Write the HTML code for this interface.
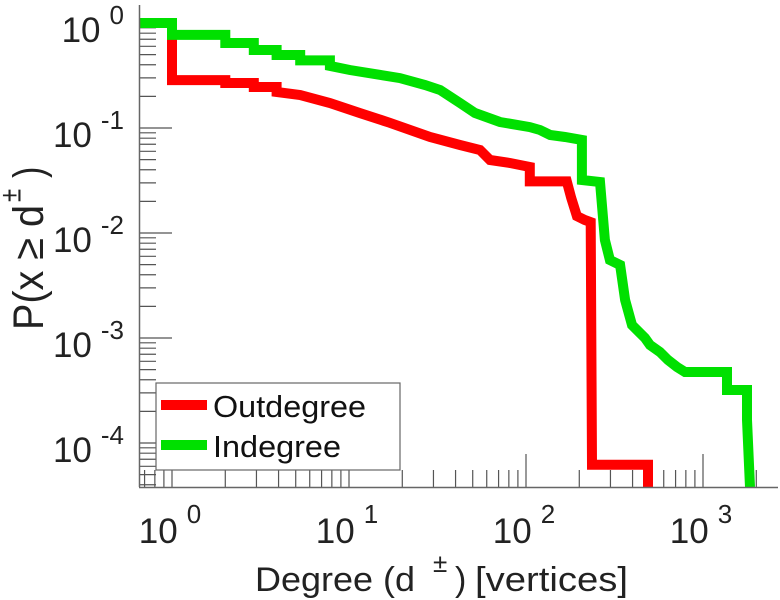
<!DOCTYPE html>
<html><head><meta charset="utf-8"><style>
html,body{margin:0;padding:0;background:#fff;}
svg{display:block;font-family:"Liberation Sans",Arial,sans-serif;}
</style></head><body>
<svg id="chart" width="780" height="600" viewBox="0 0 780 600" xmlns="http://www.w3.org/2000/svg">
<g id="ticks"></g>
<g id="series"></g>
<line x1="139.5" y1="5" x2="139.5" y2="487" stroke="#666" stroke-width="1.5"/>
<line x1="139" y1="487.5" x2="778" y2="487.5" stroke="#666" stroke-width="1.5"/>
<g id="labels" fill="#222" font-size="35"></g>
<text transform="translate(43,330) rotate(-90) scale(1,1.25)" font-size="34" fill="#222"><tspan textLength="125" lengthAdjust="spacingAndGlyphs">P(x ≥ d</tspan><tspan x="128" dy="-18" font-size="24">±</tspan><tspan x="152" dy="18">)</tspan></text>
<text y="591" font-size="34" fill="#222"><tspan x="255" textLength="160" lengthAdjust="spacingAndGlyphs">Degree (d</tspan><tspan x="433" y="572" font-size="26">±</tspan><tspan x="455" y="591">)</tspan><tspan x="475" textLength="153" lengthAdjust="spacingAndGlyphs">[vertices]</tspan></text>
<g>
<rect x="156" y="383" width="244" height="87" fill="#fff" stroke="#666" stroke-width="1.2"/>
<line x1="161" y1="405" x2="207" y2="405" stroke="#ff0000" stroke-width="10"/>
<text x="213" y="417" font-size="31" fill="#111" textLength="153" lengthAdjust="spacingAndGlyphs">Outdegree</text>
<line x1="161" y1="445" x2="207" y2="445" stroke="#00e000" stroke-width="10"/>
<text x="213" y="457" font-size="31" fill="#111" textLength="128" lengthAdjust="spacingAndGlyphs">Indegree</text>
</g>
</svg>
<script>
const inDeg = [0.66,1,1,2,2,2.9,2.9,3.9,3.9,5.3,5.3,7.8,7.8,10.1,19.4,26.9,32.7,42.4,51.5,71.3,105,120,137,166,207,207,262,279,298,340,363,397,470,502,571,634,713,791,1367,1367,1773,1773,1844];
const inProb = [1,1,0.77,0.77,0.645,0.645,0.553,0.553,0.496,0.496,0.44,0.44,0.39,0.357,0.299,0.257,0.230,0.173,0.139,0.114,0.102,0.0957,0.0858,0.082,0.0769,0.032,0.0306,0.00858,0.00553,0.00496,0.0023,0.00133,0.001,0.000857,0.000735,0.000617,0.00053,0.000474,0.000474,0.00032,0.00032,0.000166,3.8e-5];
const outDeg = [0.66,1,1,2,2,2.9,2.9,3.9,3.9,5.3,7.8,11.5,17,28.7,42.4,55,62.6,81.3,105,105,170,180,194,215,232,236,489,489];
const outProb = [1,1,0.286,0.286,0.268,0.268,0.246,0.246,0.22,0.206,0.173,0.139,0.112,0.082,0.0689,0.0617,0.0496,0.0464,0.0425,0.031,0.031,0.0216,0.0145,0.0133,0.0127,6.2e-5,6.2e-5,3.8e-5];
const xMajor = [0,1,2,3];
const yMajor = [0,-1,-2,-3,-4];

const NS = "http://www.w3.org/2000/svg";
function xS(d){ return 172 + 177*Math.log10(d); }
function yS(p){ return 23 - 105*Math.log10(p); }
function mk(tag, attrs, parent){ const e=document.createElementNS(NS,tag); for(const k in attrs) e.setAttribute(k,attrs[k]); parent.appendChild(e); return e; }

const ticks = document.getElementById('ticks');
for(let e=-1; e<=3; e++){
  for(let m=1; m<=9; m++){
    const v = m*Math.pow(10,e); const x = xS(v);
    if(x<140 || x>778) continue;
    const len = m===1 ? 33 : 17;
    const t = mk('line',{x1:x,y1:487,x2:x,y2:487-len,stroke:'#555','stroke-width':1.2},ticks);
    
    
  }
}
for(let e=-5; e<=0; e++){
  for(let m=1; m<=9; m++){
    const v = m*Math.pow(10,e); const y = yS(v);
    if(y<5 || y>487) continue;
    const len = m===1 ? 33 : 17;
    const t = mk('line',{x1:139,y1:y,x2:139+len,y2:y,stroke:'#555','stroke-width':1.2},ticks);
    
    
  }
}
const labels = document.getElementById('labels');
xMajor.forEach(function(k){
  const t = mk('text',{x:xS(Math.pow(10,k))-2,y:543,'text-anchor':'middle'},labels);
  
  
  t.appendChild(document.createTextNode('10'));
  const s = mk('tspan',{dx:9,dy:-20,'font-size':26},t);
  s.textContent = String(k);
});
yMajor.forEach(function(k){
  const y = yS(Math.pow(10,k));
  const t = mk('text',{x:124,y:y+19,'text-anchor':'end'},labels);
  
  
  t.appendChild(document.createTextNode('10'));
  const s = mk('tspan',{dx:9,dy:-18,'font-size':26},t);
  s.textContent = String(k);
});
const series = document.getElementById('series');
function drawLine(xs, ys, color, name){
  const pts = xs.map(function(d,i){ return xS(d).toFixed(1)+','+yS(ys[i]).toFixed(1); }).join(' ');
  const pl = mk('polyline',{points:pts,fill:'none',stroke:color,'stroke-width':10,'stroke-linejoin':'miter','stroke-linecap':'butt'},series);
  
  
}
drawLine(outDeg, outProb, '#ff0000', 'outdegree-line');
drawLine(inDeg, inProb, '#00e000', 'indegree-line');
</script>
</body></html>
